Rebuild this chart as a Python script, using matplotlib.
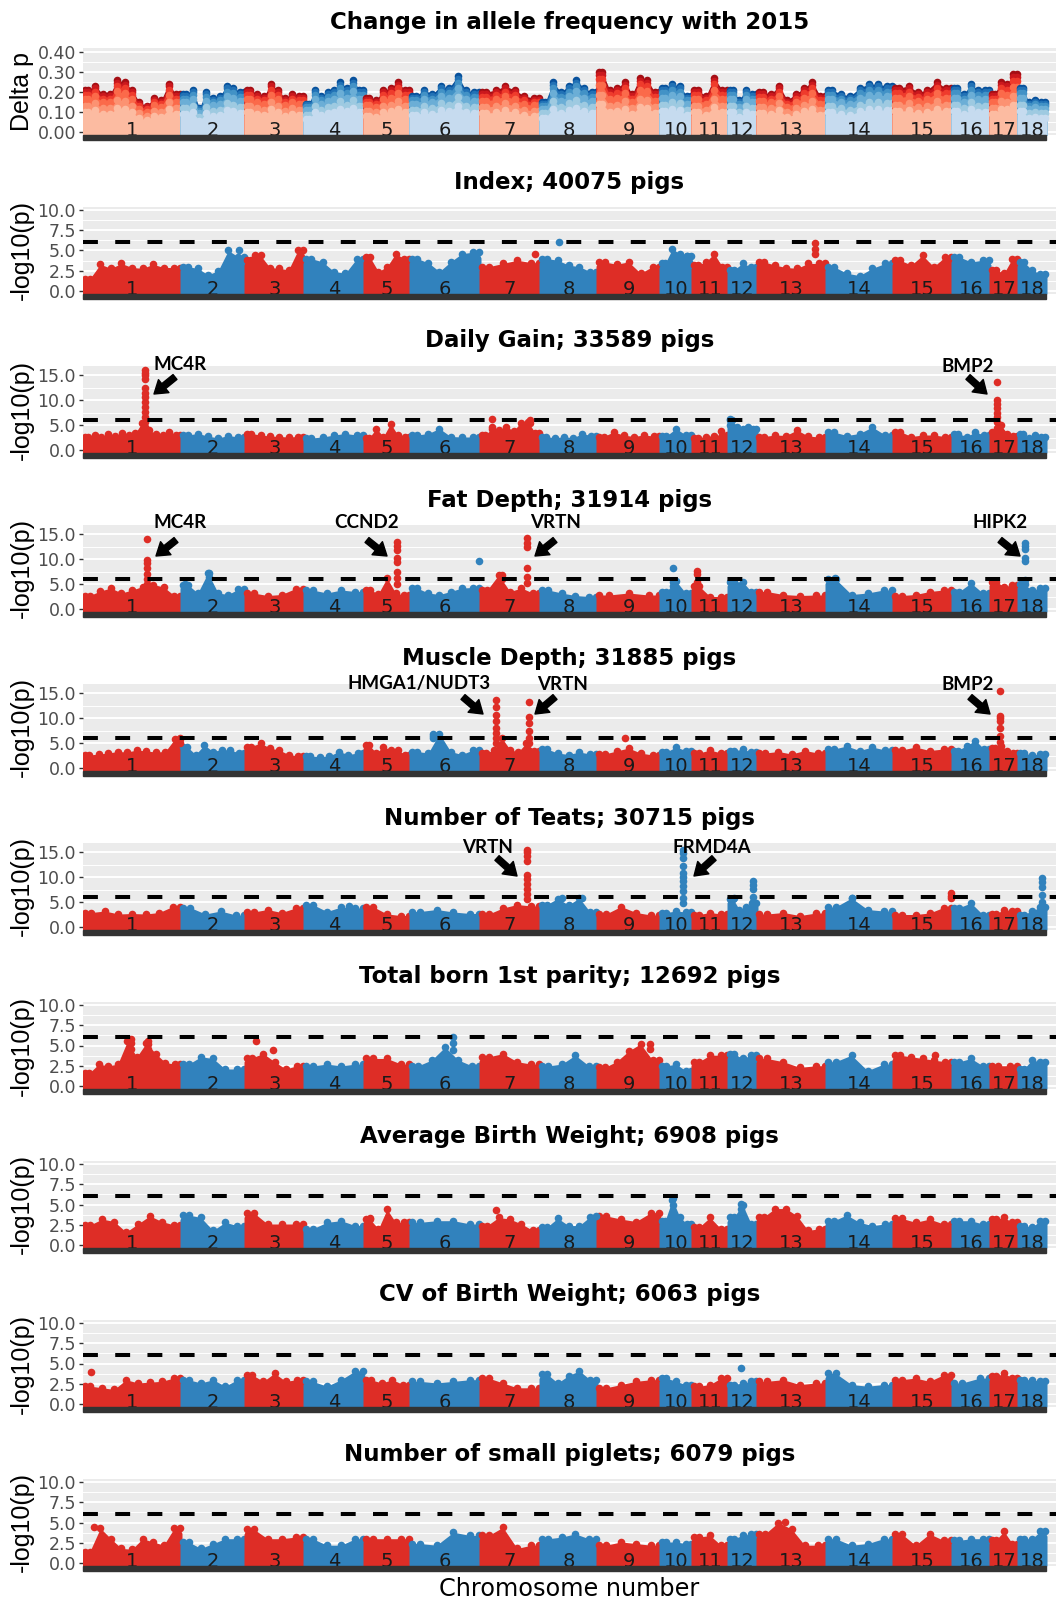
import matplotlib
matplotlib.use("Agg")
import matplotlib.pyplot as plt
import numpy as np
from matplotlib.patches import Rectangle
from matplotlib.transforms import blended_transform_factory, offset_copy

plt.rcParams["font.family"] = ["DejaVu Sans"]

W, H = 1056, 1604

chroms = [str(i) for i in range(1, 19)]
# relative chromosome lengths as drawn along the x axis
chrom_len = [98, 64, 59, 60, 46, 70, 60, 57, 63, 32, 36, 29, 69, 67, 59, 38, 28, 28]

RED, BLUE = "#DE2D26", "#3182BD"
REDS = ["#A50F15", "#CB181D", "#EF3B2C", "#FB6A4A", "#FC9272", "#FCBBA1"]
BLUES = ["#08519C", "#2171B5", "#4292C6", "#6BAED6", "#9ECAE1", "#C6DBEF"]
dp_layers = [1.0, 0.95, 0.88, 0.78, 0.62, 0.47]

# upper edge of the point cloud per chromosome
dp_env = [
    [0.21, 0.23, 0.19, 0.19, 0.26, 0.25, 0.21, 0.15, 0.13, 0.17, 0.16, 0.24, 0.19],
    [0.19, 0.21, 0.12, 0.20, 0.17, 0.18, 0.23, 0.22, 0.20],
    [0.21, 0.19, 0.18, 0.24, 0.21, 0.17, 0.19, 0.18],
    [0.14, 0.21, 0.18, 0.20, 0.21, 0.25, 0.22, 0.26, 0.21],
    [0.17, 0.16, 0.21, 0.22, 0.25, 0.21],
    [0.18, 0.21, 0.19, 0.23, 0.22, 0.28, 0.21, 0.20],
    [0.20, 0.21, 0.23, 0.21, 0.18, 0.17],
    [0.15, 0.25, 0.20, 0.23, 0.26, 0.22, 0.20],
    [0.30, 0.21, 0.22, 0.25, 0.19, 0.27, 0.26, 0.20],
    [0.22, 0.24, 0.23, 0.18],
    [0.21, 0.18, 0.27, 0.21],
    [0.21, 0.16, 0.21, 0.19],
    [0.20, 0.19, 0.23, 0.16, 0.19, 0.22, 0.25, 0.18],
    [0.21, 0.19, 0.18, 0.22, 0.24, 0.24, 0.23],
    [0.22, 0.23, 0.20, 0.21, 0.25, 0.22],
    [0.22, 0.19, 0.24, 0.21, 0.21],
    [0.19, 0.25, 0.24, 0.29],
    [0.22, 0.15, 0.16, 0.15],
]

index_env = [
    [1.5, 3.3, 2.8, 3.4, 2.9, 2.8, 3.3, 2.9, 2.9],
    [3.0, 2.8, 2.0, 2.5, 5.0, 4.2],
    [3.8, 4.4, 2.9, 2.8, 2.6, 5.0],
    [4.0, 3.6, 2.4, 2.2, 4.0],
    [4.2, 2.4, 3.0, 4.6, 4.0],
    [4.0, 3.5, 2.4, 3.6, 4.6, 4.8],
    [3.0, 3.4, 3.8, 3.5],
    [4.0, 3.8, 3.2, 3.0, 2.4],
    [3.6, 3.3, 3.6, 2.2, 3.0],
    [3.4, 5.2, 4.6, 4.3],
    [3.2, 3.6, 4.6, 3.0],
    [2.6, 3.4, 3.0],
    [3.6, 3.2, 2.9, 2.8, 3.4, 3.4],
    [3.0, 2.2, 1.9, 2.8, 3.4],
    [3.8, 3.2, 4.4, 3.0, 4.2],
    [4.2, 3.6, 3.8],
    [2.6, 2.2, 4.0],
    [3.6, 2.6, 2.1],
]
index_peaks = [(2, 0.9, [5.0]), (3, 0.17, [4.4]), (7, 0.92, [4.6]), (8, 0.33, [6.0]),
               (10, 0.84, [4.3]), (13, 0.84, [5.9, 5.2, 4.6])]

gain_env = [
    [2.6, 3.0, 2.7, 3.3, 2.8, 3.5, 3.0, 3.4, 5.5, 4.0, 3.2, 3.0, 3.6, 3.0],
    [3.0, 3.3, 2.8, 2.4, 2.9, 2.6],
    [3.3, 3.0, 2.8, 2.7, 2.6, 2.7],
    [2.4, 2.6, 3.0, 3.3, 3.0],
    [2.4, 4.3, 2.7, 5.3, 3.0, 2.6],
    [3.0, 3.3, 4.3, 2.7, 2.6, 2.6],
    [3.0, 4.3, 4.0, 4.7, 3.8, 5.5, 5.7, 3.5],
    [2.7, 2.4, 2.7, 2.4, 3.3, 2.9],
    [2.7, 3.6, 3.0, 2.7, 3.0, 2.8],
    [2.8, 4.3, 3.0],
    [2.4, 2.7, 2.9, 3.1],
    [6.0, 4.6, 4.3, 4.6, 4.3],
    [2.7, 3.0, 2.9, 4.0, 2.8, 2.6],
    [3.6, 2.9, 3.3, 4.6, 3.0],
    [3.7, 2.7, 3.0, 3.0, 2.7],
    [3.3, 2.7, 3.6, 3.0],
    [3.6, 5.0, 3.3, 2.8],
    [3.3, 2.4, 3.0, 2.7],
]
gain_peaks = [(1, 0.63, [16.0, 15.5, 15.0, 14.3, 12.5, 11.5, 10.6, 9.6, 8.6, 7.6, 6.6, 5.6, 4.6]),
              (7, 0.2, [6.2, 4.7]), (7, 0.83, [6.0, 5.5]), (11, 0.8, [3.8]),
              (12, 0.07, [6.3, 5.0]),
              (17, 0.25, [13.7, 10.0, 9.3, 8.5, 7.5, 6.6, 5.6, 4.5])]

fat_env = [
    [2.7, 3.6, 4.2, 3.2, 3.8, 4.5, 4.9, 4.4, 2.7],
    [4.9, 3.2, 7.2, 3.2, 2.9, 4.0],
    [3.2, 2.7, 2.9, 4.1],
    [3.8, 3.2, 3.8, 3.5],
    [3.8, 3.1, 6.2, 3.2, 2.8],
    [4.2, 3.2, 2.9, 3.5, 4.2, 4.3],
    [3.8, 6.8, 3.5, 4.2, 3.2],
    [3.8, 3.2, 2.7, 2.5],
    [2.8, 3.2, 2.8],
    [3.5, 5.6, 3.2],
    [4.6, 2.5, 2.5],
    [5.4, 5.5, 3.5],
    [3.5, 2.9, 2.7, 2.8],
    [6.0, 2.9, 3.2, 3.8],
    [2.7, 2.9, 3.5, 3.8],
    [3.5, 5.2, 3.2],
    [5.5, 4.5, 4.8],
    [5.0, 3.8, 4.2],
]
fat_peaks = [(1, 0.65, [14.0, 9.8, 9.2, 8.2, 7.0, 6.0, 5.0]), (2, 0.06, [5.0]),
             (2, 0.44, [7.3, 6.5]),
             (5, 0.72, [13.4, 12.6, 11.8, 10.2, 9.4, 7.4, 6.2, 5.0]),
             (6, 0.98, [9.6]), (7, 0.37, [6.8, 6.0]),
             (7, 0.78, [14.2, 13.2, 12.4, 8.2, 6.4, 5.2]),
             (10, 0.41, [8.2, 5.5, 4.6]), (11, 0.14, [7.6, 7.0, 5.5]),
             (14, 0.13, [6.2, 5.2]),
             (18, 0.25, [13.2, 12.6, 12.0, 10.2, 9.6, 5.8, 5.0])]

muscle_env = [
    [2.6, 2.8, 3.0, 3.3, 3.2, 3.6, 3.4, 3.2, 3.3, 5.8],
    [4.3, 2.7, 4.6, 3.3, 3.7, 3.6, 3.0],
    [4.3, 5.0, 4.0, 3.6, 2.7, 2.4],
    [2.4, 2.3, 2.4, 3.3, 2.7, 3.0],
    [4.6, 3.0, 4.3, 3.6, 3.6, 2.7],
    [3.3, 3.0, 6.9, 3.3, 2.7, 3.6],
    [3.0, 3.6, 6.0, 3.7, 3.2, 5.0, 3.5],
    [3.8, 3.0, 2.7, 3.2, 2.8],
    [2.8, 3.4, 4.0, 3.0, 2.6],
    [3.2, 4.2, 3.5],
    [3.0, 3.6, 3.0],
    [3.4, 3.8, 3.2],
    [3.0, 3.3, 2.8, 3.5, 3.0],
    [3.8, 4.4, 3.5, 4.2, 3.6],
    [3.6, 4.2, 3.5, 3.8],
    [3.5, 4.5, 5.5, 3.8],
    [4.0, 4.5, 3.5, 3.0],
    [3.0, 2.6, 2.8],
]
muscle_peaks = [(1, 0.99, [6.0, 5.0]), (6, 0.33, [6.9, 6.5, 6.0]),
                (7, 0.27, [13.7, 12.2, 10.7, 9.5, 8.0, 7.0, 6.0, 5.0]),
                (7, 0.82, [13.2, 10.2, 9.0, 7.5, 6.0, 5.0]), (9, 0.44, [6.0]),
                (17, 0.36, [15.5, 10.5, 10.0, 9.5, 8.0, 6.5, 5.2])]

teats_env = [
    [2.9, 3.2, 2.6, 2.7, 2.6, 2.9, 4.1],
    [3.9, 2.6, 3.2, 2.4],
    [3.0, 3.5, 2.9, 3.8],
    [4.5, 3.1, 4.0, 3.8],
    [4.1, 2.6, 2.3],
    [3.1, 3.5, 3.0, 2.7],
    [2.6, 3.8, 4.5, 4.2],
    [4.5, 5.7, 4.4, 5.8, 3.0],
    [2.6, 4.1, 2.9, 2.4],
    [2.9, 3.2, 3.0],
    [2.5, 2.9, 2.6],
    [5.7, 3.5, 4.0, 4.8],
    [2.6, 2.9, 2.3, 2.8],
    [4.0, 5.8, 3.5, 3.2],
    [2.5, 2.5, 2.8, 3.9],
    [3.9, 4.8, 2.5],
    [2.6, 3.5, 3.2],
    [2.5, 3.2, 4.0],
]
teats_peaks = [(4, 0.75, [4.2]),
               (7, 0.78, [15.5, 15.0, 14.2, 13.3, 10.4, 9.6, 8.7, 7.6, 6.6, 5.6]),
               (8, 0.39, [5.9]), (8, 0.74, [5.8]),
               (10, 0.73, [15.5, 14.8, 13.8, 12.3, 10.8, 10.0, 9.2, 8.2, 7.2, 5.9, 4.8]),
               (12, 0.2, [5.8]), (12, 0.86, [9.2, 8.5, 7.6, 6.0, 5.0]),
               (14, 0.39, [5.8]), (15, 0.98, [6.8, 6.2, 5.8]),
               (18, 0.86, [9.8, 9.0, 8.0, 6.5, 5.0])]

born_env = [
    [1.6, 2.7, 2.5, 2.7, 5.5, 3.6, 5.3, 4.0, 2.9, 2.7],
    [2.7, 3.6, 3.4, 2.1, 2.1],
    [3.5, 4.0, 3.0, 2.1, 2.5],
    [2.5, 2.7, 2.5, 2.7],
    [3.4, 3.4, 2.7],
    [2.5, 3.2, 4.8, 3.2, 2.5],
    [3.6, 4.0, 3.0, 2.7],
    [2.5, 2.7, 3.8, 2.5],
    [2.3, 3.0, 4.3, 5.2, 3.2],
    [2.5, 2.7, 1.9],
    [3.0, 3.8, 3.8],
    [4.0, 3.4, 3.8],
    [3.4, 3.0, 2.3, 2.5],
    [3.0, 3.8, 1.9, 2.7],
    [3.8, 3.6, 3.4, 3.2, 3.0],
    [3.0, 3.4, 2.5],
    [2.5, 2.5],
    [2.1, 3.2, 3.0],
]
born_peaks = [(1, 0.49, [5.8, 5.3, 4.6]), (1, 0.66, [5.6, 5.2, 4.6]),
              (3, 0.19, [5.5]), (3, 0.47, [4.4]), (6, 0.61, [6.0, 5.3, 4.5]),
              (9, 0.84, [5.2, 4.6]), (15, 0.71, [3.8])]

abw_env = [
    [2.5, 3.2, 2.9, 1.6, 2.6, 3.6, 2.9, 2.5],
    [3.7, 3.4, 1.8, 2.8, 2.4],
    [4.0, 2.6, 2.6, 2.6],
    [2.0, 2.8, 3.0, 2.4],
    [3.2, 2.0, 4.4, 2.8, 2.8],
    [2.8, 3.0, 3.0, 2.6],
    [2.4, 3.4, 3.2, 2.6, 1.8],
    [2.2, 3.3, 2.4, 2.4, 3.5],
    [3.6, 3.2, 2.9, 4.0],
    [3.0, 5.6, 3.5, 2.6],
    [2.2, 3.4, 2.0],
    [3.4, 5.0, 2.6],
    [3.5, 4.5, 4.5, 3.6, 1.8, 2.0],
    [3.0, 3.7, 2.8, 2.4, 2.6],
    [3.3, 2.8, 3.2, 2.6],
    [3.0, 3.0, 2.6],
    [3.2, 3.4, 2.8],
    [2.4, 2.2, 3.0],
]
abw_peaks = [(5, 0.13, [3.3]), (7, 0.27, [4.3]), (8, 0.99, [3.6]),
             (10, 0.41, [5.8, 5.0]), (12, 0.45, [5.1, 4.4])]

cvbw_env = [
    [2.2, 2.0, 1.8, 3.0, 2.6, 2.7, 2.8, 3.2],
    [3.0, 2.6, 3.0, 2.2, 3.0],
    [3.6, 2.8, 3.8, 2.8, 3.0],
    [2.8, 2.2, 3.0, 4.1],
    [3.0, 2.6, 3.0, 2.4],
    [2.8, 2.6, 2.8, 3.0],
    [3.2, 2.6, 2.0, 2.0],
    [3.7, 2.6, 3.5, 4.1, 3.0],
    [2.0, 2.4, 2.8, 3.0],
    [3.2, 2.8, 2.4],
    [2.2, 2.4, 3.2],
    [2.4, 2.6, 2.8],
    [2.8, 3.0, 2.4, 2.6],
    [3.8, 2.4, 2.2, 2.4],
    [3.0, 3.2, 2.8, 3.6],
    [2.6, 3.2],
    [3.4, 3.8, 3.2],
    [3.0, 3.0, 2.8],
]
cvbw_peaks = [(1, 0.08, [3.9]), (12, 0.45, [4.5])]

small_env = [
    [1.4, 4.3, 3.0, 1.8, 1.7, 3.0, 2.6, 2.2, 4.3],
    [2.6, 1.8, 2.4, 3.0, 3.0],
    [4.2, 3.0, 3.0, 3.2],
    [3.0, 2.2, 2.2, 3.0],
    [3.0, 3.0, 3.0],
    [2.4, 2.2, 3.8, 3.4],
    [3.4, 4.4, 1.8, 2.2],
    [3.0, 3.2, 3.6, 3.0],
    [2.2, 2.6, 2.4, 2.2],
    [2.6, 2.6, 2.4],
    [3.2, 3.4, 2.2],
    [3.0, 3.4, 3.6],
    [3.6, 5.0, 4.2, 2.2, 2.2],
    [3.0, 2.2, 2.4, 3.0],
    [3.6, 2.2, 3.6, 2.8],
    [2.8, 3.0, 3.0],
    [2.8, 3.9, 2.4],
    [3.0, 3.0, 3.9],
]
small_peaks = [(1, 0.11, [4.4]), (13, 0.4, [5.1])]

panels = [
    ("Change in allele frequency with 2015", "Delta p", dp_env, [], "dp"),
    ("Index; 40075 pigs", "-log10(p)", index_env, index_peaks, 10),
    ("Daily Gain; 33589 pigs", "-log10(p)", gain_env, gain_peaks, 15),
    ("Fat Depth; 31914 pigs", "-log10(p)", fat_env, fat_peaks, 15),
    ("Muscle Depth; 31885 pigs", "-log10(p)", muscle_env, muscle_peaks, 15),
    ("Number of Teats; 30715 pigs", "-log10(p)", teats_env, teats_peaks, 15),
    ("Total born 1st parity; 12692 pigs", "-log10(p)", born_env, born_peaks, 10),
    ("Average Birth Weight; 6908 pigs", "-log10(p)", abw_env, abw_peaks, 10),
    ("CV of Birth Weight; 6063 pigs", "-log10(p)", cvbw_env, cvbw_peaks, 10),
    ("Number of small piglets; 6079 pigs", "-log10(p)", small_env, small_peaks, 10),
]

# gene labels: panel, text, label xy, arrow tail xy, arrow tip xy (data coords)
gene_notes = [
    (2, "MC4R", (97, 17.2), (92, 14.6), (71, 11.2)),
    (2, "BMP2", (885, 16.6), (885, 14.6), (904, 11.2)),
    (3, "MC4R", (97, 17.2), (93, 13.8), (73, 10.6)),
    (3, "CCND2", (284, 17.2), (284, 13.8), (304, 10.6)),
    (3, "VRTN", (473, 17.2), (472, 13.8), (452, 10.6)),
    (3, "HIPK2", (917, 17.2), (917, 13.8), (937, 10.6)),
    (4, "HMGA1/NUDT3", (336, 16.8), (380, 14.2), (400, 10.8)),
    (4, "VRTN", (480, 16.8), (472, 14.2), (452, 10.8)),
    (4, "BMP2", (885, 16.8), (887, 14.2), (907, 10.8)),
    (5, "VRTN", (405, 16.0), (414, 13.8), (434, 10.2)),
    (5, "FRMD4A", (629, 16.0), (631, 13.8), (611, 10.2)),
]

starts = np.concatenate([[0], np.cumsum(chrom_len)[:-1]])
total = float(np.sum(chrom_len))
PANEL_H = 87
S = 30

fig = plt.figure(figsize=(W / 100, H / 100), dpi=100)


def cloud(ax, vals, c, color, ylo, z):
    n = len(vals)
    x0, x1 = starts[c] + 1.5, starts[c] + chrom_len[c] - 1.5
    xs = x0 + (x1 - x0) * (np.arange(n) + 0.5) / n
    px = np.concatenate([[x0 - 2.5], [x0], xs, [x1], [x1 + 2.5]])
    py = np.concatenate([[vals[0] * 0.85], [vals[0]], vals, [vals[-1]], [vals[-1] * 0.85]])
    ax.fill_between(px, ylo, py, color=color, lw=0, zorder=z)
    ax.scatter(np.concatenate([[x0], xs, [x1]]),
               np.concatenate([[vals[0]], vals, [vals[-1]]]),
               s=S, color=color, lw=0, zorder=z)


for i, (title, ylab, env, peaks, kind) in enumerate(panels):
    top = 48 + 159 * i
    ax = fig.add_axes([83 / W, 1 - (top + PANEL_H) / H, 973 / W, PANEL_H / H])
    ax.set_facecolor("#EBEBEB")
    if kind == "dp":
        ylim = (-0.015, 0.42)
        major = [0, 0.1, 0.2, 0.3, 0.4]
        minor = [0.05, 0.15, 0.25, 0.35]
        fmt = "{:.2f}"
    elif kind == 10:
        ylim = (-0.37, 10.37)
        major = [0, 2.5, 5, 7.5, 10]
        minor = [1.25, 3.75, 6.25, 8.75]
        fmt = "{:.1f}"
    else:
        ylim = (-0.6, 16.8)
        major = [0, 5, 10, 15]
        minor = [2.5, 7.5, 12.5]
        fmt = "{:.1f}"
    ax.set_ylim(ylim)
    ax.set_xlim(0, total * 973 / 963)

    for c in range(18):
        vals = np.array(env[c])
        if kind == "dp":
            shades = REDS if c % 2 == 0 else BLUES
            for k, f in enumerate(dp_layers):
                cloud(ax, vals * f, c, shades[k], ylim[0], 2)
        else:
            cloud(ax, vals, c, RED if c % 2 == 0 else BLUE, ylim[0], 2)

    for chrom, frac, ys in peaks:
        c = chrom - 1
        x = starts[c] + frac * chrom_len[c]
        ax.scatter([x] * len(ys), ys, s=S, color=RED if c % 2 == 0 else BLUE,
                   lw=0, zorder=3)

    if kind != "dp":
        ax.axhline(6, color="black", lw=2.9, dashes=(3.7, 4.3), zorder=5)

    ax.set_yticks(major)
    ax.set_yticklabels([fmt.format(v) for v in major])
    ax.set_yticks(minor, minor=True)
    ax.set_xticks([])
    ax.grid(which="major", axis="y", color="white", lw=1.4)
    ax.grid(which="minor", axis="y", color="white", lw=0.7)
    ax.set_axisbelow(True)
    ax.tick_params(axis="y", which="major", length=3, width=1, color="#333333",
                   labelsize=12.5, labelcolor="#4D4D4D", pad=2)
    ax.tick_params(axis="y", which="minor", length=0)
    for sp in ax.spines.values():
        sp.set_visible(False)

    bt = blended_transform_factory(ax.transData, ax.transAxes)
    ax.add_patch(Rectangle((0, -5 / PANEL_H), total, 5 / PANEL_H, transform=bt,
                           color="#333333", clip_on=False, zorder=7))
    lt = offset_copy(bt, fig=fig, x=0, y=-1, units="dots")
    for c, name in enumerate(chroms):
        ax.text(starts[c] + chrom_len[c] / 2, 0, name, transform=lt, ha="center",
                va="baseline", fontsize=14, color="#1A1A1A", zorder=6)

    fig.text(569.5 / W, 1 - (top - 25) / H, title, ha="center", va="center",
             fontsize=16.5, fontweight="bold")
    fig.text(22 / W, 1 - (top + PANEL_H / 2) / H, ylab, rotation=90, ha="center",
             va="center", fontsize=18, family=["Liberation Sans", "DejaVu Sans"])

    for p, label, lxy, tail, tip in gene_notes:
        if p != i:
            continue
        ax.annotate("", xy=tip, xytext=tail, zorder=8, annotation_clip=False,
                    arrowprops=dict(arrowstyle="simple,head_length=0.9,head_width=1.2,tail_width=0.45",
                                    color="black", mutation_scale=10,
                                    shrinkA=0, shrinkB=0))
        ax.text(lxy[0], lxy[1], label, ha="center", va="center", fontsize=13.5,
                fontweight="bold", family=["Lato", "DejaVu Sans"], clip_on=False,
                zorder=8)

fig.text(569.5 / W, 1 - 1589 / H, "Chromosome number", ha="center", va="center",
         fontsize=17.3)

fig.savefig("out.png", dpi=100)
